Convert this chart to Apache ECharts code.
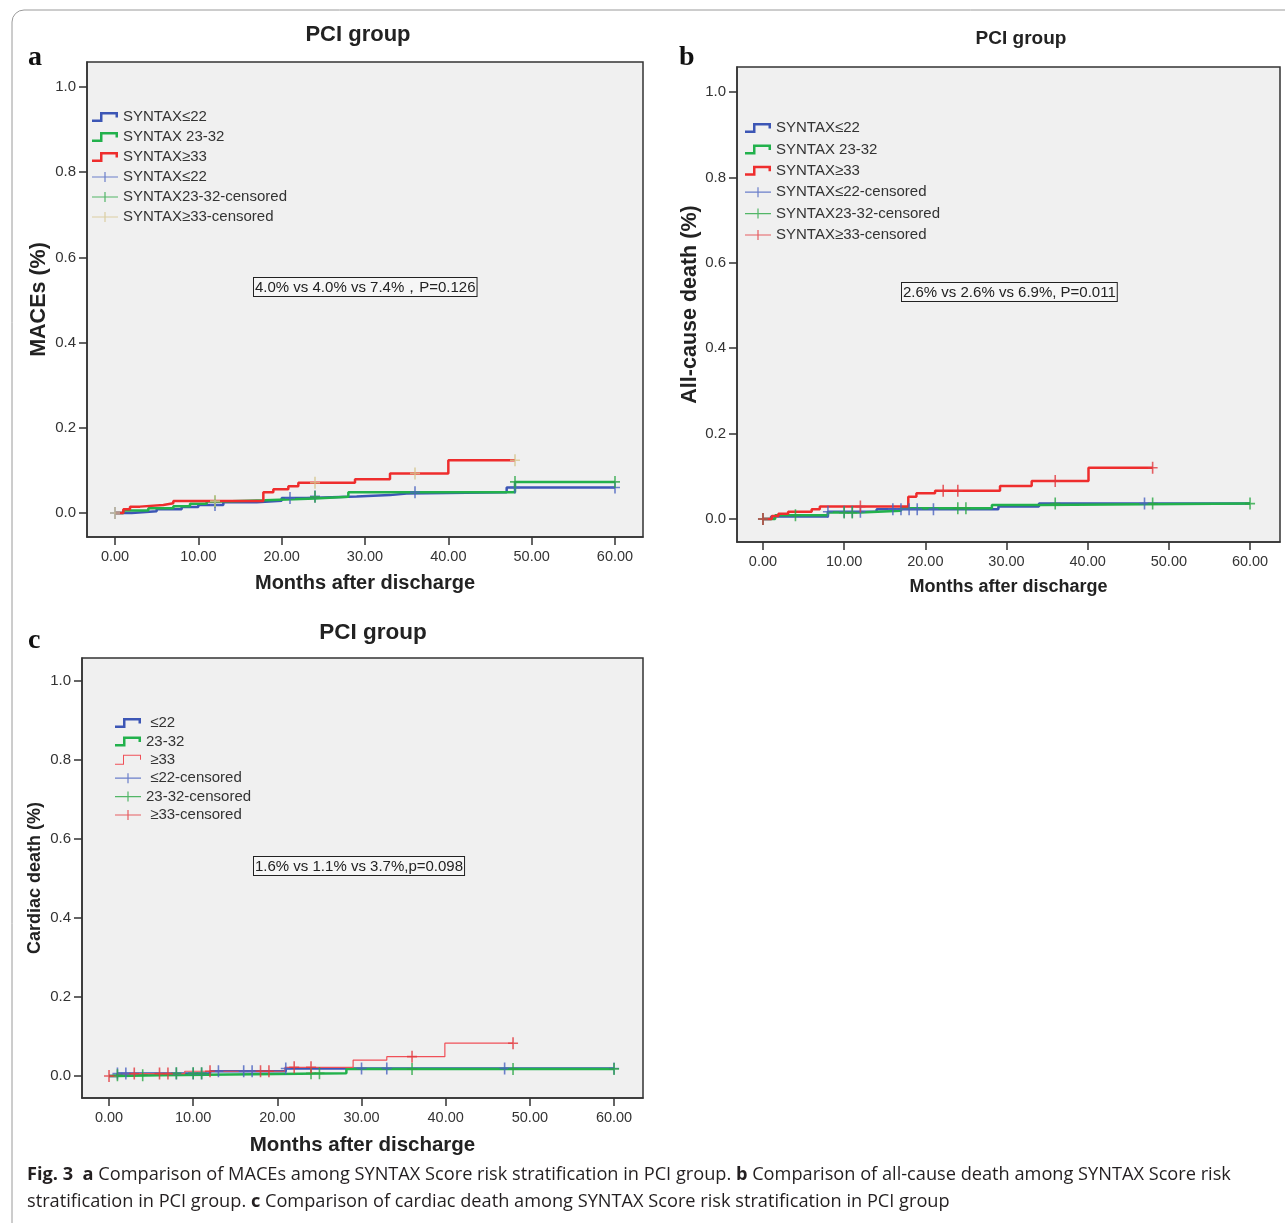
<!DOCTYPE html>
<html>
<head>
<meta charset="utf-8">
<title>PCI group - SYNTAX Score</title>
<script src="https://cdn.jsdelivr.net/npm/echarts@6/dist/echarts.min.js"></script>
<style>
html,body{margin:0;padding:0;background:#fff;}
#chart{width:1285px;height:1223px;}
</style>
</head>
<body>
<div id="chart"></div>
<script>
// tick labels
var xTicks = [0, 10, 20, 30, 40, 50, 60];
var yTicks = [0, 0.2, 0.4, 0.6, 0.8, 1.0];

// a: MACEs  -- [month, cumulative value]
var aLow  = [[0,0],[2,0.004],[5,0.009],[8,0.014],[10,0.019],[13,0.025],[17,0.029],[20,0.035],[23,0.039],[29,0.042],[33,0.046],[35,0.049],[47,0.06],[60,0.06]];
var aMid  = [[0,0],[1,0.006],[4,0.011],[7,0.016],[9,0.022],[11,0.027],[13,0.03],[18,0.034],[24,0.038],[28,0.049],[48,0.073],[60,0.073]];
var aHigh = [[0,0],[1,0.009],[1.8,0.015],[3,0.019],[5.8,0.023],[7,0.028],[17.8,0.049],[19,0.056],[20.8,0.063],[22,0.071],[28.8,0.079],[33,0.093],[40,0.124],[48,0.124]];
var aLowCens  = [0, 12, 21, 24, 36, 48, 60];
var aMidCens  = [12, 24, 48, 60];
var aHighCens = [0, 12, 24, 36, 48];

// b: all-cause death
var bLow  = [[0,0],[1,0.006],[8,0.017],[14,0.023],[29,0.029],[34,0.036],[60,0.036]];
var bMid  = [[0,0],[1.5,0.009],[8,0.015],[12,0.019],[17,0.025],[28.2,0.033],[34,0.036],[60,0.036]];
var bHigh = [[0,0],[1.1,0.007],[1.9,0.012],[3.1,0.017],[6,0.023],[7,0.029],[17.9,0.052],[18.9,0.06],[21.2,0.066],[29.2,0.077],[33.1,0.089],[40.1,0.12],[48,0.12]];
var bLowCens  = [0, 8, 10, 11, 12, 16, 17, 18, 19, 21, 47];
var bMidCens  = [0, 4, 10, 11, 24, 25, 36, 48, 60];
var bHighCens = [0, 12, 22.2, 24, 36, 48];

// c: cardiac death
var cLow  = [[0,0],[1,0.006],[12,0.012],[21,0.019],[60,0.019]];
var cMid  = [[0,0],[1,0.002],[6,0.007],[28.2,0.018],[60,0.018]];
var cHigh = [[0,0],[1,0.006],[9,0.012],[20.9,0.022],[29,0.04],[33,0.049],[39.9,0.083],[48,0.083]];
var cLowCens  = [1, 2, 8, 10, 11, 13, 16, 17, 21, 30, 33, 47, 60];
var cMidCens  = [1, 4, 8, 10, 11, 24, 25, 36, 48, 60];
var cHighCens = [0, 3, 6, 7, 12, 18, 19, 22, 24, 36, 48];

var FONT = "'Liberation Sans', Arial, sans-serif";
var BLUE = '#3c56b5', GREEN = '#22b14c', RED = '#ee2d2d';
var PLUS = 'path://M0,5.2 L4.2,5.2 L4.2,0 L5.8,0 L5.8,5.2 L10,5.2 L10,6.8 L5.8,6.8 L5.8,12 L4.2,12 L4.2,6.8 L0,6.8 Z';
var STEP = 'path://M0,7.5 L8,7.5 L8,0 L26,0 L26,5.5 L23.5,5.5 L23.5,2.5 L10.5,2.5 L10.5,10 L0,10 Z';
var STEP_THIN = 'path://M0,9 L8,9 L8,0 L26,0 L26,5 L25,5 L25,1 L9,1 L9,10 L0,10 Z';
var CENS = 'path://M0,4.4 L12.4,4.4 L12.4,0 L13.6,0 L13.6,4.4 L26,4.4 L26,5.6 L13.6,5.6 L13.6,10 L12.4,10 L12.4,5.6 L0,5.6 Z';

// value of a step curve at time t
function at(curve, t) {
  var v = curve[0][1];
  for (var i = 0; i < curve.length; i++) if (curve[i][0] <= t) v = curve[i][1];
  return v;
}

function stepLine(name, data, color, width, idx) {
  return { name: name, type: 'line', step: 'end', data: data, xAxisIndex: idx, yAxisIndex: idx,
    symbol: 'none', lineStyle: { color: color, width: width }, itemStyle: { color: color }, z: 3 };
}
function censor(name, times, curve, color, idx) {
  return { name: name, type: 'scatter', data: times.map(function (t) { return [t, at(curve, t)]; }),
    xAxisIndex: idx, yAxisIndex: idx, symbol: PLUS, symbolSize: [10, 12],
    itemStyle: { color: color }, z: 4 };
}

function xAxis(idx, min, max, name, gap, nsize) {
  return {
    type: 'value', gridIndex: idx, min: min, max: max,
    name: name, nameLocation: 'middle', nameGap: gap,
    nameTextStyle: { fontSize: nsize, fontWeight: 'bold', color: '#222', fontFamily: FONT },
    axisLine: { show: true, onZero: false, lineStyle: { color: '#333', width: 1.5 } },
    axisTick: { show: true, length: 8, customValues: xTicks, lineStyle: { color: '#333', width: 1.5 } },
    axisLabel: { customValues: xTicks, margin: 12, fontSize: 14.5, color: '#333', fontFamily: FONT,
      formatter: function (v) { return v.toFixed(2); } },
    splitLine: { show: false }
  };
}
function yAxis(idx, min, max, name, gap, nsize) {
  return {
    type: 'value', gridIndex: idx, min: min, max: max,
    name: name, nameLocation: 'middle', nameGap: gap,
    nameTextStyle: { fontSize: nsize, fontWeight: 'bold', color: '#222', fontFamily: FONT },
    axisLine: { show: true, onZero: false, lineStyle: { color: '#333', width: 1.5 } },
    axisTick: { show: true, length: 8, customValues: yTicks, lineStyle: { color: '#333', width: 1.5 } },
    axisLabel: { customValues: yTicks, margin: 11, fontSize: 15, color: '#333', fontFamily: FONT,
      formatter: function (v) { return v.toFixed(1); } },
    splitLine: { show: false }
  };
}
function legend(left, top, gap, items) {
  return {
    orient: 'vertical', left: left, top: top, padding: 0, itemGap: gap,
    itemWidth: 26, itemHeight: 10, selectedMode: false,
    itemStyle: { borderWidth: 0 },
    textStyle: { fontSize: 15, lineHeight: 16, color: '#333', fontFamily: FONT },
    formatter: function (n) { return n.slice(2); },
    data: items.map(function (it) { return { name: it[0], icon: it[1] }; })
  };
}
function box(x, y, text) {
  return { type: 'text', x: x, y: y, z: 10, style: {
    text: text, fontSize: 15, fontFamily: FONT, fill: '#222',
    backgroundColor: '#f6f6f6', borderColor: '#222', borderWidth: 1, padding: [2, 1, 1, 1] } };
}
function letter(x, y, t) {
  return { type: 'text', x: x, y: y, style: { text: t, fontSize: 28, fontWeight: 'bold',
    fontFamily: "'Liberation Serif', 'Times New Roman', serif", fill: '#111',
    verticalAlign: 'middle', textVerticalAlign: 'middle' } };
}
function title(text, left, top, size) {
  return { text: text, left: left, top: top, textAlign: 'center', padding: 0,
    textStyle: { fontSize: size, fontWeight: 'bold', color: '#222', fontFamily: FONT } };
}

var chart = echarts.init(document.getElementById('chart'));
chart.setOption({
  animation: false,
  backgroundColor: '#fff',
  textStyle: { fontFamily: FONT },
  title: [
    title('PCI group', 358, 24, 22),
    title('PCI group', 1021, 29, 19),
    title('PCI group', 373, 621, 22.5)
  ],
  grid: [
    { left: 87, top: 62, width: 556, height: 475, show: true, backgroundColor: '#f0f0f0', borderColor: '#333', borderWidth: 1.5 },
    { left: 737, top: 67, width: 543, height: 475, show: true, backgroundColor: '#f0f0f0', borderColor: '#333', borderWidth: 1.5 },
    { left: 82, top: 658, width: 561, height: 440, show: true, backgroundColor: '#f0f0f0', borderColor: '#333', borderWidth: 1.5 }
  ],
  xAxis: [
    xAxis(0, -3.36, 63.36, 'Months after discharge', 36, 20),
    xAxis(1, -3.2, 63.69, 'Months after discharge', 36, 18),
    xAxis(2, -3.21, 63.44, 'Months after discharge', 37, 20.5)
  ],
  yAxis: [
    yAxis(0, -0.0563, 1.0587, 'MACEs (%)', 37, 21.5),
    yAxis(1, -0.0539, 1.0585, 'All-cause death (%)', 34, 21.5),
    yAxis(2, -0.0557, 1.058, 'Cardiac death (%)', 38, 18)
  ],
  legend: [
    legend(92, 109, 4, [
      ['a|SYNTAX≤22', STEP], ['a|SYNTAX 23-32', STEP], ['a|SYNTAX≥33', STEP],
      ['a|SYNTAX≤22 ', CENS], ['a|SYNTAX23-32-censored', CENS], ['a|SYNTAX≥33-censored', CENS]]),
    legend(745, 120, 5.4, [
      ['b|SYNTAX≤22', STEP], ['b|SYNTAX 23-32', STEP], ['b|SYNTAX≥33', STEP],
      ['b|SYNTAX≤22-censored', CENS], ['b|SYNTAX23-32-censored', CENS], ['b|SYNTAX≥33-censored', CENS]]),
    legend(115, 715, 2.4, [
      ['c| ≤22', STEP], ['c|23-32', STEP], ['c| ≥33', STEP_THIN],
      ['c| ≤22-censored', CENS], ['c|23-32-censored', CENS], ['c| ≥33-censored', CENS]])
  ],
  graphic: [
    { type: 'rect', shape: { x: 12, y: 10, width: 1400, height: 1400, r: 12 }, silent: true,
      style: { fill: 'none', stroke: '#9a9a9a', lineWidth: 1 } },
    letter(28, 58, 'a'), letter(679, 58, 'b'), letter(28, 641, 'c'),
    box(254, 278, '4.0% vs 4.0% vs 7.4%，P=0.126'),
    box(902, 283, '2.6% vs 2.6% vs 6.9%, P=0.011'),
    box(254, 857, '1.6% vs 1.1% vs 3.7%,p=0.098'),
    { type: 'text', x: 27, y: 1166, style: {
      text: '{b|Fig. 3}  {b|a} Comparison of MACEs among SYNTAX Score risk stratification in PCI group. {b|b} Comparison of all-cause death among SYNTAX Score risk',
      fontSize: 18.2, fontFamily: "'Open Sans', sans-serif", fill: '#231f20',
      rich: { b: { fontSize: 18.2, fontWeight: 'bold', fontFamily: "'Open Sans', sans-serif", fill: '#231f20' } } } },
    { type: 'text', x: 27, y: 1193, style: {
      text: 'stratification in PCI group. {b|c} Comparison of cardiac death among SYNTAX Score risk stratification in PCI group',
      fontSize: 18.2, fontFamily: "'Open Sans', sans-serif", fill: '#231f20',
      rich: { b: { fontSize: 18.2, fontWeight: 'bold', fontFamily: "'Open Sans', sans-serif", fill: '#231f20' } } } }
  ],
  series: [
    stepLine('a|SYNTAX≤22', aLow, BLUE, 2.5, 0),
    stepLine('a|SYNTAX 23-32', aMid, GREEN, 2.5, 0),
    stepLine('a|SYNTAX≥33', aHigh, RED, 2.5, 0),
    censor('a|SYNTAX≤22 ', aLowCens, aLow, '#4a63c0', 0),
    censor('a|SYNTAX23-32-censored', aMidCens, aMid, '#2aa845', 0),
    censor('a|SYNTAX≥33-censored', aHighCens, aHigh, '#d6c68e', 0),

    stepLine('b|SYNTAX≤22', bLow, BLUE, 2.5, 1),
    stepLine('b|SYNTAX 23-32', bMid, GREEN, 2.5, 1),
    stepLine('b|SYNTAX≥33', bHigh, RED, 2.5, 1),
    censor('b|SYNTAX≤22-censored', bLowCens, bLow, '#4a63c0', 1),
    censor('b|SYNTAX23-32-censored', bMidCens, bMid, '#2aa845', 1),
    censor('b|SYNTAX≥33-censored', bHighCens, bHigh, '#e23a3f', 1),

    stepLine('c| ≤22', cLow, BLUE, 2.5, 2),
    stepLine('c|23-32', cMid, GREEN, 2.5, 2),
    stepLine('c| ≥33', cHigh, '#f05058', 1.2, 2),
    censor('c| ≤22-censored', cLowCens, cLow, '#4a63c0', 2),
    censor('c|23-32-censored', cMidCens, cMid, '#2aa845', 2),
    censor('c| ≥33-censored', cHighCens, cHigh, '#e23a3f', 2)
  ]
});
</script>
</body>
</html>
